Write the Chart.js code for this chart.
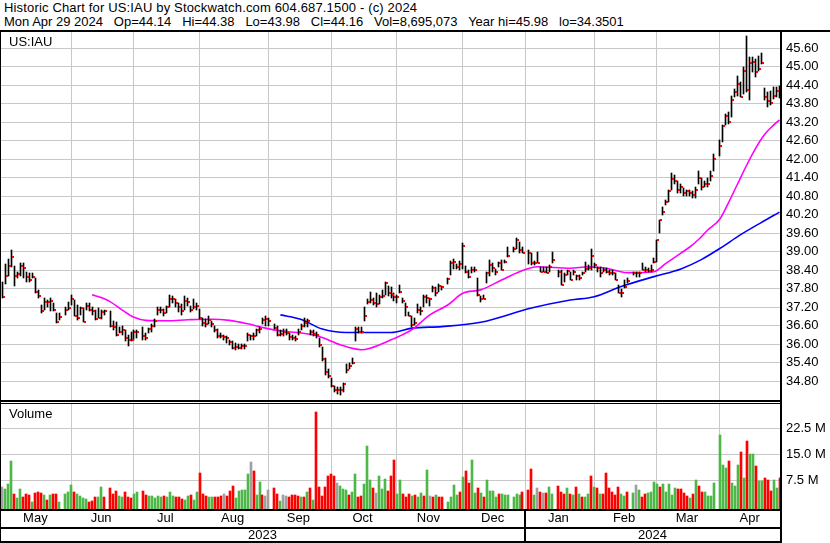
<!DOCTYPE html>
<html>
<head>
<meta charset="utf-8">
<script src="https://cdn.jsdelivr.net/npm/chart.js@4.4.1/dist/chart.umd.min.js"></script>
<style>
body { margin: 0; background: #fff; }
#wrap { position: relative; width: 830px; height: 543px; overflow: hidden; font-family: Arial, "Liberation Sans", sans-serif; font-size: 13px; color: #000; }
.txt { position: absolute; white-space: pre; line-height: 14px; }
.ln { position: absolute; background: #000; }
canvas { position: absolute; left: 0; }
</style>
</head>
<body>
<div id="wrap">
  <div class="txt" style="left:4px;top:1px;letter-spacing:0.16px">Historic Chart for US:IAU by Stockwatch.com 604.687.1500 - (c) 2024</div>
  <div class="txt" style="left:4px;top:15px">Mon Apr 29 2024   Op=44.14   Hi=44.38   Lo=43.98   Cl=44.16   Vol=8,695,073   Year hi=45.98   lo=34.3501</div>
  <canvas id="price" width="830" height="368" style="top:32px"></canvas>
  <canvas id="volume" width="830" height="140" style="top:403px"></canvas>
  <div class="txt" style="left:9px;top:35px">US:IAU</div>
  <div class="txt" style="left:9px;top:407px">Volume</div>
  <div class="ln" style="left:0;top:30px;width:830px;height:2px"></div>
  <div class="ln" style="left:0;top:30px;width:1px;height:513px"></div>
  <div class="ln" style="left:780px;top:30px;width:2px;height:513px"></div>
  <div class="ln" style="left:0;top:400px;width:781px;height:2px"></div>
  <div class="ln" style="left:0;top:403px;width:781px;height:1px"></div>
  <div class="ln" style="left:0;top:509px;width:781px;height:2px"></div>
  <div class="ln" style="left:0;top:527px;width:781px;height:2px"></div>
  <div class="ln" style="left:0;top:541px;width:781px;height:2px"></div>
</div>
<script>
// one slot per weekday, May 1 2023 .. Apr 29 2024 (null = market holiday)
var highs = [
  38.00,38.60,38.75,39.05,38.55, 38.35,38.62,38.64,38.35,38.32, 38.30,38.14,37.75,37.27,37.49, 37.43,37.49,37.33,37.00,37.00,
  null,37.22,37.38,37.60,37.43, 37.27,37.22,37.17,37.33,37.33, 37.22,37.11,37.17,37.10,37.12, null,37.06,36.75,36.73,36.55,
  36.60,36.45,36.30,36.40,36.45, 36.45,null,36.55,36.35,36.52, 36.65,36.80,37.20,37.20,37.15, 37.25,37.60,37.55,37.45,37.33,
  37.30,37.55,37.50,37.25,37.45, 37.35,37.15,36.85,36.80,36.90, 36.75,36.60,36.50,36.35,36.30, 36.25,36.15,36.10,36.05,36.00,
  36.00,36.00,36.35,36.30,36.35, 36.50,36.55,36.85,36.90,36.85, null,36.65,36.60,36.45,36.48, 36.50,36.35,36.30,36.25,36.50,
  36.65,36.85,36.80,36.45,36.45, 36.40,36.20,35.90,35.55,35.20, 34.90,34.65,34.60,34.60,34.75, 35.35,35.40,35.55,36.57,36.55,
  36.55,37.22,37.45,37.70,37.50, 37.65,37.60,37.75,38.03,37.90, 37.85,37.65,37.60,37.92,37.50, 37.35,37.05,36.90,36.85,37.30,
  37.20,37.60,37.60,37.50,37.90, 37.85,37.95,37.90,null,38.15, 38.70,38.75,38.60,38.70,39.27, 38.55,38.40,38.50,38.50,38.15,
  37.55,37.60,38.35,38.72,38.62, 38.45,38.67,38.73,38.73,39.16, null,39.16,39.43,39.32,39.16, null,39.05,38.94,38.68,38.99,
  38.51,38.51,38.51,38.56,38.99, null,38.40,38.40,38.30,38.40, 38.35,38.40,38.24,38.24,38.35, 38.67,38.56,39.10,38.62,38.51,
  38.51,38.46,38.46,38.40,38.40, 38.30,37.92,37.80,38.08,38.13, null,38.35,38.35,38.35,38.62, 38.51,38.46,38.56,38.78,39.37,
  40.02,40.45,40.66,41.00,41.55, 41.50,41.30,41.20,41.05,41.00, 41.00,40.95,41.10,41.60,41.40, 41.30,41.40,41.60,42.15,null,
  42.63,43.09,43.47,43.52,44.06, 44.27,44.70,44.49,44.97,45.98, 45.30,45.30,45.24,45.35,45.43, 44.30,44.17,44.22,44.33,44.33,
  44.38
];
var lows = [
  37.50,37.95,38.20,38.50,37.90, 38.15,38.20,38.14,38.03,38.03, 38.14,37.65,37.50,37.00,37.11, 37.22,37.06,37.06,36.70,36.79,
  null,36.95,37.11,37.27,36.90, 36.79,36.95,36.72,37.11,37.06, 36.95,36.79,36.84,36.80,36.95, null,36.57,36.45,36.25,36.35,
  36.30,36.10,35.95,36.10,36.15, 36.20,null,36.13,36.15,36.35, 36.40,36.55,36.95,37.00,36.90, 37.00,37.20,37.35,37.20,37.05,
  36.95,37.10,37.25,37.05,37.15, 37.10,36.80,36.60,36.55,36.65, 36.55,36.40,36.20,36.20,36.15, 36.05,35.98,35.85,35.80,35.85,
  35.85,35.85,36.10,36.12,36.15, 36.25,36.35,36.65,36.60,36.60, null,36.50,36.28,36.25,36.28, 36.30,36.15,36.15,36.10,36.30,
  36.45,36.55,36.55,36.30,36.25, 36.20,35.90,35.45,35.00,34.90, 34.60,34.45,34.40,34.35,34.45, 35.05,35.20,35.35,36.09,36.35,
  36.35,36.74,37.30,37.33,37.28, 37.22,37.30,37.50,37.60,37.55, 37.50,37.40,37.35,37.65,37.33, 36.90,36.90,36.55,36.62,37.00,
  36.95,37.20,37.35,37.25,37.70, 37.55,37.70,37.75,null,37.95, 38.25,38.45,38.45,38.40,38.45, 38.30,38.15,38.30,38.35,37.55,
  37.38,37.45,37.97,38.20,38.35, 38.25,38.51,38.40,38.62,38.84, null,39.00,39.10,38.94,38.95, null,38.60,38.56,38.56,38.62,
  38.35,38.35,38.30,38.35,38.62, null,38.19,37.92,38.03,38.24, 38.08,38.24,38.08,38.08,38.24, 38.35,38.40,38.40,38.46,38.35,
  38.19,38.35,38.30,38.24,38.24, 38.08,37.65,37.54,37.81,37.97, null,38.24,38.19,38.19,38.40, 38.35,38.35,38.35,38.62,38.67,
  39.59,40.18,40.50,40.60,41.00, 41.20,40.90,40.90,40.80,40.80, 40.80,40.75,40.75,41.20,41.00, 41.10,41.10,41.30,41.60,null,
  42.09,42.55,43.09,43.14,43.36, 44.00,44.06,44.01,44.11,44.17, 43.90,44.81,44.65,44.87,45.08, 43.90,43.68,43.74,43.95,44.01,
  43.98
];
var closes = [
  37.52,38.22,38.54,38.83,38.22, 38.27,38.54,38.48,38.18,38.08, 38.19,37.68,37.56,37.08,37.38, 37.36,37.40,37.10,36.72,36.89,
  null,37.11,37.18,37.48,36.92, 36.86,37.17,36.73,37.24,37.11, 37.08,36.82,36.84,37.05,37.06, null,36.60,36.55,36.30,36.41,
  36.45,36.20,36.14,36.15,36.40, 36.40,null,36.27,36.20,36.49, 36.60,36.75,37.10,37.10,37.00, 37.20,37.46,37.46,37.33,37.20,
  37.06,37.41,37.38,37.11,37.20, 37.25,36.84,36.68,36.65,36.77, 36.65,36.46,36.25,36.25,36.22, 36.20,36.07,35.87,35.90,35.87,
  35.95,35.93,36.30,36.25,36.25, 36.46,36.50,36.79,36.80,36.74, null,36.54,36.30,36.34,36.38, 36.36,36.22,36.20,36.16,36.41,
  36.60,36.70,36.75,36.38,36.33, 36.30,35.96,35.53,35.10,34.98, 34.64,34.53,34.50,34.53,34.70, 35.17,35.28,35.39,36.49,36.39,
  36.41,36.90,37.36,37.43,37.35, 37.30,37.54,37.56,37.97,37.65, 37.60,37.54,37.54,37.70,37.41, 37.22,36.90,36.63,36.70,37.11,
  37.06,37.52,37.49,37.47,37.81, 37.65,37.87,37.84,null,38.11, 38.62,38.67,38.51,38.60,39.19, 38.35,38.19,38.40,38.40,37.60,
  37.47,37.47,38.32,38.56,38.46, 38.35,38.62,38.40,38.67,38.86, null,39.10,39.37,39.05,38.97, null,38.96,38.62,38.62,38.64,
  38.35,38.35,38.30,38.51,38.73, null,38.35,37.92,38.24,38.38, 38.08,38.35,38.21,38.13,38.30, 38.44,38.46,38.86,38.57,38.46,
  38.30,38.40,38.35,38.30,38.30, 38.08,37.67,37.65,37.84,38.06, null,38.30,38.30,38.30,38.40, 38.40,38.38,38.40,38.67,39.37,
  40.02,40.29,40.61,40.95,41.35, 41.30,41.00,41.10,40.90,40.95, 40.90,40.85,41.00,41.40,41.10, 41.20,41.20,41.45,42.01,null,
  42.41,43.06,43.41,43.20,43.90, 44.19,44.44,44.01,44.85,44.25, 45.10,45.14,44.81,44.92,45.10, 44.00,43.88,43.81,44.06,44.22,
  44.16
];
// volume in millions of shares
var volumes = [
  5.56,5.08,6.5,13.1,3.8, 2.4,5.2,2.95,3.7,3.5, 1.5,4.1,4.3,3.9,3.3, 2.1,3.3,3.8,3.8,1.4,
  null,3.6,4.3,6.2,4.4, 3.7,3.1,2.4,2.2,1.4, 1.8,2.95,2.95,5.8,2.7, null,5.4,3.8,4.6,3.2,
  2.95,4.2,2.7,2.4,3.6, 4.3,null,4.6,3.4,3.1, 3.1,2.6,3.2,2.85,3.1, 2.85,4.3,3.1,2.85,2.7,
  2.3,1.9,3.1,3.4,2.0, 4.3,9.8,3.8,3.2,2.85, 2.85,2.95,2.95,3.2,3.8, 3.1,4.6,5.85,2.6,4.6,
  4.9,4.9,9.5,13.0,10.4, 3.4,7.2,3.4,3.1,4.9, null,5.46,3.8,1.6,3.4, 3.1,2.7,3.4,3.4,3.1,
  2.7,2.95,4.3,5.5,1.9, 27.3,5.8,3.1,5.8,8.95, 9.5,8.95,6.8,6.0,5.1, 4.9,3.4,4.3,9.3,2.7,
  3.1,6.6,17.4,7.8,5.5, 4.1,8.95,5.2,8.1,4.6, 8.95,13.6,3.7,7.8,3.7, 2.7,3.6,3.1,3.4,2.85,
  3.9,3.1,10.7,3.1,2.85, 3.4,2.85,2.85,null,1.4, 2.85,6.3,3.4,4.3,8.7, 10.4,6.8,13.6,4.1,5.5,
  4.1,2.95,7.8,4.6,4.6, 2.95,3.7,3.7,3.4,3.4, null,2.85,3.7,3.4,4.3, null,4.8,10.9,3.4,5.5,
  4.3,4.1,4.1,5.7,3.7, null,6.0,4.3,3.7,5.5, 3.7,3.4,5.7,3.7,2.7, 2.95,3.7,8.95,5.7,5.5,
  3.7,3.7,9.8,5.5,4.3, 3.4,5.7,3.7,3.1,4.3, null,4.0,6.2,4.9,2.7, 3.7,4.0,4.3,7.2,6.6,
  5.7,6.6,4.3,6.6,3.4, 5.5,5.2,5.2,4.0,3.1, 2.6,3.7,7.8,6.0,4.3, 4.3,3.1,3.1,6.9,null,
  20.6,11.9,11.1,13.3,6.9, 5.9,12.1,15.9,8.4,18.8, 15.3,15.3,11.6,7.5,7.5, 8.4,7.8,4.6,7.8,5.5,
  8.4
];
// g = up day, r = down day, n = unchanged, . = holiday
var volDir = ('ngggrggrrrgrrrgrgrrg' + '.' + 'gggrggggrrrggr' + '.' + 'rrrggrrrgg' + '.' +
  'rrgggggrgggrrrggrggrrrggrrrnrrrgggggnrggrnn' + '.' +
  'rrgnnrrrrgrgrgrrrrrrrngggrggrrgggrngggrrrggrrrgrggrgnrgrr' + '.' +
  'ggggrgrrggrgrggggrggg' + '.' + 'gggr' + '.' + 'rrgnrnrgg' + '.' +
  'rrrgrgrgrggrgrgrrrrrrggr' + '.' + 'gngrrggggrgggggrrrrgrgrrgggg' + '.' +
  'gggrgggrgrggrggrrrggr').split('');

// moving averages (slot, price)
var maFastSlot = [30, 33, 36, 40, 44, 48, 55, 62, 70, 76, 82, 88, 93, 100, 106, 113, 120, 123, 130, 137, 143, 149, 154, 160, 167, 173, 179, 190, 196, 202, 209, 218, 222, 227, 230, 233, 236, 240, 243, 246, 249, 252, 255, 258, 260];
var maFastVal = [37.60, 37.51, 37.38, 37.11, 36.87, 36.77, 36.76, 36.79, 36.81, 36.77, 36.66, 36.52, 36.43, 36.36, 36.25, 35.98, 35.82, 35.87, 36.14, 36.47, 36.95, 37.27, 37.65, 37.76, 38.08, 38.35, 38.51, 38.46, 38.51, 38.46, 38.32, 38.35, 38.62, 38.95, 39.15, 39.40, 39.70, 40.05, 40.60, 41.20, 41.80, 42.35, 42.80, 43.10, 43.27];
var maSlowSlot = [93, 100, 107, 115, 130, 137, 147, 160, 177, 190, 198, 207, 218, 227, 234, 240, 247, 254, 260];
var maSlowVal = [36.95, 36.80, 36.49, 36.38, 36.38, 36.52, 36.57, 36.71, 37.17, 37.43, 37.54, 37.87, 38.19, 38.44, 38.75, 39.10, 39.55, 39.95, 40.28];

var monthNames = ['May', 'Jun', 'Jul', 'Aug', 'Sep', 'Oct', 'Nov', 'Dec', 'Jan', 'Feb', 'Mar', 'Apr'];
var monthStarts = [0, 23, 44, 66, 89, 110, 132, 154, 175, 198, 219, 240];
var yearNames = ['2023', '2024'];
var yearStarts = [0, 175];
var priceTicks = [34.8, 35.4, 36.0, 36.6, 37.2, 37.8, 38.4, 39.0, 39.6, 40.2, 40.8, 41.4, 42.0, 42.6, 43.2, 43.8, 44.4, 45.0, 45.6];
var volumeTicks = [7.5, 15, 22.5];

var SLOTS = highs.length;
var FONT = { family: 'Arial, "Liberation Sans", sans-serif', size: 13 };
var GRID = '#c8c8c8';
var dirColors = { g: '#4db848', r: '#ff0000', n: '#a0a0a0' };

// close marker: small red block drawn just right of the high-low stroke
var closeTick = document.createElement('canvas');
closeTick.width = 6;
closeTick.height = 2;
var tctx = closeTick.getContext('2d');
tctx.fillStyle = '#ff0000';
tctx.fillRect(4, 0, 2, 2);

var rangeData = [], closeData = [], volData = [], volColors = [];
for (var i = 0; i < SLOTS; i++) {
    if (highs[i] == null) continue;
    rangeData.push({ x: i, y: [lows[i], highs[i]] });
    closeData.push({ x: i, y: closes[i] });
    volData.push({ x: i, y: volumes[i] });
    volColors.push(dirColors[volDir[i]] || '#a0a0a0');
}

// snap thin bars and close ticks to whole pixels so they stay crisp
var snapToPixels = {
    id: 'snapToPixels',
    afterDatasetsUpdate: function(chart) {
        chart.data.datasets.forEach(function(ds, k) {
            if (!ds.snap) return;
            chart.getDatasetMeta(k).data.forEach(function(el) {
                if (ds.type === 'line') {
                    el.x = Math.floor(el.x);
                    el.y = Math.round(el.y);
                } else {
                    el.x = (Math.round(el.width) % 2 === 1) ? Math.floor(el.x) + 0.5 : Math.round(el.x);
                    el.y = Math.round(el.y);
                    el.base = Math.round(el.base);
                }
            });
        });
    }
};

// no automatic label padding: the frame is fixed
var noPad = function(s) { s.paddingTop = 0; s.paddingBottom = 0; s.paddingLeft = 0; s.paddingRight = 0; };

var slotAxis = function(extra) {
    var base = {
        type: 'linear', min: -0.5, max: SLOTS - 0.5, offset: false,
        grid: { color: GRID, lineWidth: 1, drawTicks: false, offset: false },
        border: { display: false },
        ticks: { display: false },
        afterBuildTicks: function(s) { s.ticks = monthStarts.slice(1).map(function(v){ return { value: v }; }); },
        afterFit: function(s) { s.height = 0; noPad(s); }
    };
    return Object.assign(base, extra || {});
};

var priceChart = new Chart(document.getElementById('price'), {
    data: {
        datasets: [
            { type: 'line', data: maSlowSlot.map(function(x, k){ return { x: x, y: maSlowVal[k] }; }),
              borderColor: '#0000ff', borderWidth: 1.6, pointRadius: 0, cubicInterpolationMode: 'monotone', order: 4 },
            { type: 'line', data: maFastSlot.map(function(x, k){ return { x: x, y: maFastVal[k] }; }),
              borderColor: '#ff00ff', borderWidth: 1.6, pointRadius: 0, cubicInterpolationMode: 'monotone', order: 3 },
            { type: 'bar', data: rangeData, backgroundColor: '#000', barThickness: 1, snap: true, order: 2 },
            { type: 'line', data: closeData, showLine: false, pointStyle: closeTick, pointRadius: 2, snap: true, order: 1 }
        ]
    },
    options: {
        responsive: false, animation: false, events: [],
        layout: { autoPadding: false, padding: { left: 1, right: 0, top: 0, bottom: 0 } },
        plugins: { legend: { display: false }, tooltip: { enabled: false } },
        scales: {
            x: slotAxis(),
            y: {
                position: 'right', min: 34.19, max: 46.12,
                afterBuildTicks: function(s) { s.ticks = priceTicks.map(function(v){ return { value: v }; }); },
                afterFit: function(s) { s.width = 49; noPad(s); },
                grid: { color: GRID, lineWidth: 1, drawTicks: false },
                border: { display: false },
                ticks: { font: FONT, color: '#000', padding: 5, callback: function(v){ return v.toFixed(2); } }
            }
        }
    },
    plugins: [snapToPixels]
});

var yearDivider = {
    id: 'yearDivider',
    afterDraw: function(chart) {
        var ctx = chart.ctx, area = chart.chartArea;
        var x = Math.round(chart.scales.x.getPixelForValue(yearStarts[1]));
        ctx.save();
        ctx.fillStyle = '#000';
        ctx.fillRect(x - 1, area.bottom, 2, chart.height - area.bottom);
        ctx.restore();
    }
};

var midpoints = function(starts) {
    return starts.map(function(s, k){ return ((k + 1 < starts.length ? starts[k + 1] : SLOTS) + s - 1) / 2; });
};

var labelAxis = function(weight, height, pad, starts, names) {
    return {
        type: 'linear', position: 'bottom', weight: weight, min: -0.5, max: SLOTS - 0.5, offset: false,
        grid: { display: false, drawTicks: false }, border: { display: false },
        afterBuildTicks: function(s) { s.ticks = midpoints(starts).map(function(v){ return { value: v }; }); },
        afterFit: function(s) { s.height = height; noPad(s); },
        ticks: { autoSkip: false, maxRotation: 0, font: FONT, color: '#000', padding: pad,
                 callback: function(v, k){ return names[k]; } }
    };
};

var volumeChart = new Chart(document.getElementById('volume'), {
    type: 'bar',
    data: {
        datasets: [
            { type: 'bar', data: volData, backgroundColor: volColors, barThickness: 2, base: -0.91, snap: true }
        ]
    },
    options: {
        responsive: false, animation: false, events: [],
        layout: { autoPadding: false, padding: { left: 1, right: 0, top: 1, bottom: 1 } },
        plugins: { legend: { display: false }, tooltip: { enabled: false } },
        scales: {
            x: slotAxis({ weight: 0 }),
            xm: labelAxis(1, 18, 1, monthStarts, monthNames),
            xy: labelAxis(2, 14, 0, yearStarts, yearNames),
            y: {
                position: 'right', min: -0.91, max: 29.55,
                afterBuildTicks: function(s) { s.ticks = volumeTicks.map(function(v){ return { value: v }; }); },
                afterFit: function(s) { s.width = 49; noPad(s); },
                grid: { color: GRID, lineWidth: 1, drawTicks: false },
                border: { display: false },
                ticks: { font: FONT, color: '#000', padding: 5, callback: function(v){ return v.toFixed(1) + ' M'; } }
            }
        }
    },
    plugins: [snapToPixels, yearDivider]
});
</script>
</body>
</html>
